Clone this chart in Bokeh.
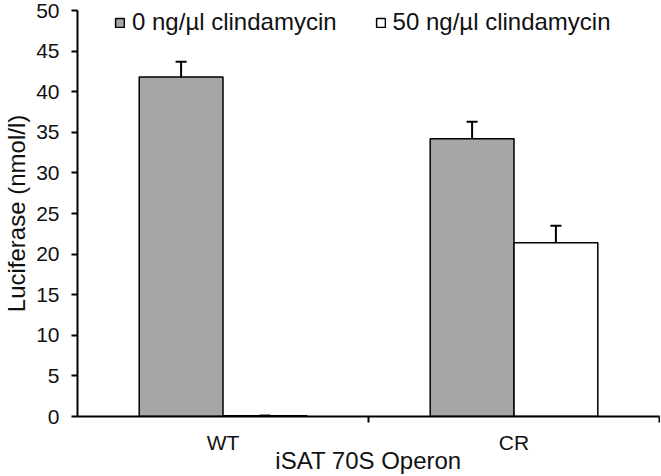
from bokeh.plotting import figure
from bokeh.models import ColumnDataSource, Whisker, FixedTicker, Legend, LegendItem, Range1d
from bokeh.embed import file_html
from bokeh.resources import INLINE

# data
categories = ["WT", "CR"]
series_names = ["0 ng/µl clindamycin", "50 ng/µl clindamycin"]
values_0 = [41.8, 34.2]
errors_0 = [1.9, 2.1]
values_50 = [0.1, 21.4]
errors_50 = [0.0, 2.1]
y_ticks = [0, 5, 10, 15, 20, 25, 30, 35, 40, 45, 50]
x_title = "iSAT 70S Operon"
y_title = "Luciferase (nmol/l)"

FONT = "Liberation Sans"
bar_w = 0.288
centers = [i + 0.5 for i in range(len(categories))]

src0 = ColumnDataSource(dict(
    x=[c - bar_w / 2 for c in centers], top=values_0,
    upper=[v + e for v, e in zip(values_0, errors_0)],
    lower=[v - e for v, e in zip(values_0, errors_0)]))
src50 = ColumnDataSource(dict(
    x=[c + bar_w / 2 for c in centers], top=values_50,
    upper=[v + e for v, e in zip(values_50, errors_50)],
    lower=[v - e for v, e in zip(values_50, errors_50)]))

p = figure(width=660, height=476, output_backend="svg", toolbar_location=None,
           x_range=Range1d(0, len(categories)), y_range=Range1d(0, 50),
           min_border_left=76, min_border_right=1, min_border_top=10, min_border_bottom=60)
p.outline_line_color = None
p.grid.grid_line_color = None
p.background_fill_color = "white"

r0 = p.vbar(x="x", top="top", width=bar_w, source=src0, fill_color="#A6A6A6",
            line_color="black", line_width=1.5)
r50 = p.vbar(x="x", top="top", width=bar_w, source=src50, fill_color="white",
             line_color="black", line_width=1.5)

for s in (src0, src50):
    w = Whisker(base="x", upper="upper", lower="lower", source=s,
                line_color="black", line_width=2)
    w.upper_head.size = 11
    w.lower_head.size = 11
    w.upper_head.line_width = 2
    w.lower_head.line_width = 2
    p.add_layout(w)

# x axis
p.xaxis.ticker = FixedTicker(ticks=centers, minor_ticks=[float(i) for i in range(1, len(categories) + 1)])
p.xaxis.major_label_overrides = {c: n for c, n in zip(centers, categories)}
p.xaxis.major_tick_out = 0
p.xaxis.major_tick_in = 0
p.xaxis.minor_tick_out = 6
p.xaxis.minor_tick_in = 0
p.xaxis.minor_tick_line_color = "black"
p.xaxis.minor_tick_line_width = 2
p.xaxis.major_label_standoff = 8
p.xaxis.axis_label = x_title
p.xaxis.axis_label_standoff = -10

# y axis
p.yaxis.ticker = FixedTicker(ticks=y_ticks)
p.yaxis.major_tick_out = 6
p.yaxis.major_tick_in = 0
p.yaxis.minor_tick_line_color = None
p.yaxis.major_label_standoff = 12
p.yaxis.axis_label = y_title
p.yaxis.axis_label_standoff = 3

for ax in (p.xaxis[0], p.yaxis[0]):
    ax.axis_line_color = "black"
    ax.axis_line_width = 2
    ax.major_tick_line_color = "black"
    ax.major_tick_line_width = 2
    ax.major_label_text_font = FONT
    ax.major_label_text_font_size = "21px"
    ax.major_label_text_color = "#111111"
    ax.axis_label_text_font = FONT
    ax.axis_label_text_font_size = "24px"
    ax.axis_label_text_font_style = "normal"
    ax.axis_label_text_color = "#111111"

legend = Legend(items=[LegendItem(label=series_names[0], renderers=[r0]),
                       LegendItem(label=series_names[1], renderers=[r50])],
                orientation="horizontal", location=(37, 380),
                border_line_color=None, background_fill_alpha=0,
                padding=0, margin=0, spacing=38,
                glyph_width=11, glyph_height=11, label_standoff=7,
                label_text_font=FONT, label_text_font_size="24px",
                label_text_color="#111111")
p.add_layout(legend, "center")

open("out.html", "w").write(file_html(p, INLINE))
